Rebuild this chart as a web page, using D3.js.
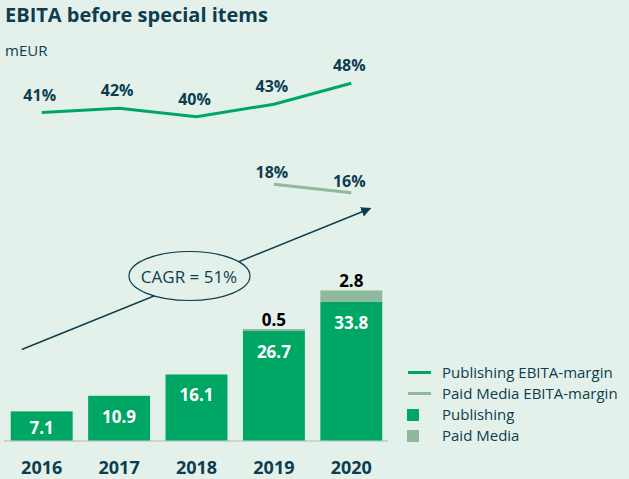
<!DOCTYPE html>
<html>
<head>
<meta charset="utf-8">
<script src="https://cdn.jsdelivr.net/npm/d3@7"></script>
<style>
  body { margin: 0; background: #e3f1ea; }
  svg { display: block; font-family: "Open Sans", sans-serif; }
</style>
</head>
<body>
<div id="chart"></div>
<script>
// data
var years = ["2016", "2017", "2018", "2019", "2020"];
var publishing = [7.1, 10.9, 16.1, 26.7, 33.8];
var paidMedia = [0, 0, 0, 0.5, 2.8];
var publishingMargin = [41, 42, 40, 43, 48];
var paidMediaMargin = [null, null, null, 18, 16];
var cagrLabel = "CAGR = 51%";
var legendItems = ["Publishing EBITA-margin", "Paid Media EBITA-margin", "Publishing", "Paid Media"];

var width = 629, height = 479;
var navy = "#0d3d4f", green = "#00a664", paid = "#8fb89c", bg = "#e3f1ea";

var svg = d3.select("#chart")
    .append("svg")
    .attr("width", width)
    .attr("height", height)

svg.append("rect").attr("width", width).attr("height", height).attr("fill", bg)

// title
svg.append("text")
    .attr("x", 5).attr("y", 22)
    .attr("fill", navy)
    .style("font-size", "20px")
    .style("font-weight", "bold")
    .text("EBITA before special items")

svg.append("text")
    .attr("x", 5).attr("y", 56)
    .attr("fill", navy)
    .style("font-size", "15px")
    .text("mEUR")

// scales
var x = d3.scaleBand()
    .domain(years)
    .range([3, 390])
    .paddingInner(0.2)
    .paddingOuter(0.1);

var y = d3.scaleLinear()
    .domain([0, 40])
    .range([440.5, 276.5]);

var yPub = d3.scaleLinear().domain([40, 48]).range([116.7, 83.3]);
var yPaid = d3.scaleLinear().domain([16, 18]).range([192.7, 184.3]);

var data = years.map(function (d, i) {
    return { year: d, pub: publishing[i], paid: paidMedia[i], pm: publishingMargin[i], pdm: paidMediaMargin[i] };
});

// baseline
svg.append("line")
    .attr("x1", 4).attr("x2", 388)
    .attr("y1", y(0) + 0.5).attr("y2", y(0) + 0.5)
    .attr("stroke", "#c2cbc6")
    .attr("stroke-width", 1.5)

// bars
svg.selectAll("rect.pub")
    .data(data)
    .enter()
    .append("rect")
    .attr("class", "pub")
    .attr("x", function (d) { return x(d.year); })
    .attr("y", function (d) { return y(d.pub); })
    .attr("width", x.bandwidth())
    .attr("height", function (d) { return y(0) - y(d.pub); })
    .attr("fill", green)

svg.selectAll("rect.paid")
    .data(data.filter(function (d) { return d.paid > 0; }))
    .enter()
    .append("rect")
    .attr("class", "paid")
    .attr("x", function (d) { return x(d.year); })
    .attr("y", function (d) { return y(d.pub + d.paid); })
    .attr("width", x.bandwidth())
    .attr("height", function (d) { return y(d.pub) - y(d.pub + d.paid); })
    .attr("fill", paid)

// bar labels
svg.selectAll("text.pubval")
    .data(data)
    .enter()
    .append("text")
    .attr("x", function (d) { return x(d.year) + x.bandwidth() / 2; })
    .attr("y", function (d) { return Math.min(y(d.pub) + 27, (y(d.pub) + y(0)) / 2 + 8); })
    .attr("text-anchor", "middle")
    .attr("fill", "#fff")
    .style("font-size", "17px")
    .style("font-weight", "bold")
    .text(function (d) { return d.pub.toFixed(1); })

svg.selectAll("text.paidval")
    .data(data.filter(function (d) { return d.paid > 0; }))
    .enter()
    .append("text")
    .attr("x", function (d) { return x(d.year) + x.bandwidth() / 2; })
    .attr("y", function (d) { return y(d.pub + d.paid) - 3; })
    .attr("text-anchor", "middle")
    .attr("fill", "#000")
    .style("font-size", "17px")
    .style("font-weight", "bold")
    .text(function (d) { return d.paid.toFixed(1); })

// year labels
svg.selectAll("text.year")
    .data(years)
    .enter()
    .append("text")
    .attr("x", function (d) { return x(d) + x.bandwidth() / 2; })
    .attr("y", 474)
    .attr("text-anchor", "middle")
    .attr("fill", navy)
    .style("font-size", "18px")
    .style("font-weight", "bold")
    .text(function (d) { return d; })

// margin lines
var cx = function (d) { return x(d.year) + x.bandwidth() / 2; };

svg.append("path")
    .datum(data)
    .attr("fill", "none")
    .attr("stroke", green)
    .attr("stroke-width", 3)
    .attr("d", d3.line().x(cx).y(function (d) { return yPub(d.pm); }))

svg.append("path")
    .datum(data.filter(function (d) { return d.pdm != null; }))
    .attr("fill", "none")
    .attr("stroke", paid)
    .attr("stroke-width", 3)
    .attr("d", d3.line().x(cx).y(function (d) { return yPaid(d.pdm); }))

svg.selectAll("text.pm")
    .data(data)
    .enter()
    .append("text")
    .attr("x", function (d) { return cx(d) - 2; })
    .attr("y", function (d) { return yPub(d.pm) - 12; })
    .attr("text-anchor", "middle")
    .attr("fill", navy)
    .style("font-size", "16px")
    .style("font-weight", "bold")
    .text(function (d) { return d.pm + "%"; })

svg.selectAll("text.pdm")
    .data(data.filter(function (d) { return d.pdm != null; }))
    .enter()
    .append("text")
    .attr("x", function (d) { return cx(d) - 2; })
    .attr("y", function (d) { return yPaid(d.pdm) - 6; })
    .attr("text-anchor", "middle")
    .attr("fill", navy)
    .style("font-size", "16px")
    .style("font-weight", "bold")
    .text(function (d) { return d.pdm + "%"; })

// CAGR arrow
svg.append("defs").append("marker")
    .attr("id", "arrow")
    .attr("viewBox", "0 0 10 10")
    .attr("refX", 9).attr("refY", 5)
    .attr("markerWidth", 10).attr("markerHeight", 10)
    .attr("markerUnits", "userSpaceOnUse")
    .attr("orient", "auto")
    .append("path")
    .attr("d", "M0,0 L10,5 L0,10 Z")
    .attr("fill", navy)

var ax1 = x(years[0]) + 11, ax2 = x(years[4]) + x.bandwidth() - 12;
svg.append("line")
    .attr("x1", ax1).attr("y1", 349.5)
    .attr("x2", ax2).attr("y2", 208.5)
    .attr("stroke", navy)
    .attr("stroke-width", 1.5)
    .attr("marker-end", "url(#arrow)")

svg.append("ellipse")
    .attr("cx", 189.5).attr("cy", 276)
    .attr("rx", 60.5).attr("ry", 24.5)
    .attr("fill", bg)
    .attr("stroke", navy)
    .attr("stroke-width", 1.2)

svg.append("text")
    .attr("x", 189).attr("y", 282.5)
    .attr("text-anchor", "middle")
    .attr("fill", navy)
    .style("font-size", "17px")
    .text(cagrLabel)

// legend
var legend = svg.append("g").attr("transform", "translate(407,372)");
legendItems.forEach(function (name, i) {
    var g = legend.append("g").attr("transform", "translate(0," + (i * 21) + ")");
    if (i < 2) {
        g.append("line")
            .attr("x1", 1).attr("x2", 24)
            .attr("y1", 0.5).attr("y2", 0.5)
            .attr("stroke", i == 0 ? green : paid)
            .attr("stroke-width", 3)
    } else {
        g.append("rect")
            .attr("x", 0).attr("y", -5)
            .attr("width", 12).attr("height", 12)
            .attr("fill", i == 2 ? green : paid)
    }
    g.append("text")
        .attr("x", 35).attr("y", 5.5)
        .attr("fill", navy)
        .style("font-size", "15px")
        .text(name)
});
</script>
</body>
</html>
